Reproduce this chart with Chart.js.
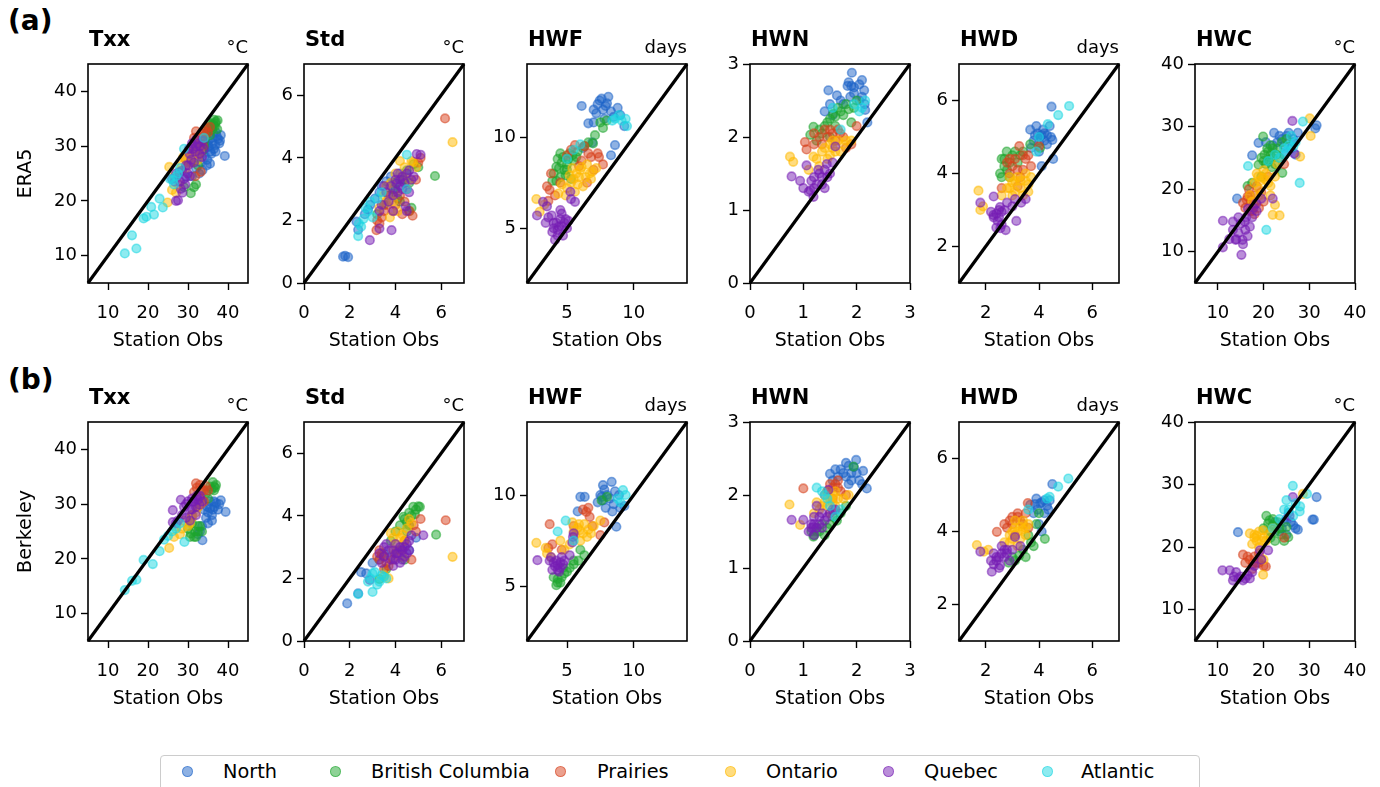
<!DOCTYPE html>
<html>
<head>
<meta charset="utf-8">
<script src="https://cdn.jsdelivr.net/npm/chart.js@4.4.1/dist/chart.umd.min.js"></script>
<style>
  html, body { margin:0; padding:0; background:#fff; }
  body { width:1380px; height:787px; overflow:hidden; position:relative; font-family:"DejaVu Sans", sans-serif; color:#000; }
  .abs { position:absolute; white-space:nowrap; line-height:1; }
  .panelTag { font-weight:bold; font-size:28px; }
  .ttl { font-weight:bold; font-size:21px; }
  .unit { font-size:18px; text-align:right; }
  .cv { position:absolute; }
  #legend { position:absolute; left:160px; top:755px; width:1040px; height:44px; border:1px solid #ccc; border-radius:4px; box-sizing:border-box; }
  .lgm { position:absolute; width:9px; height:9px; border-radius:50%; }
  .lgt { position:absolute; font-size:19.3px; line-height:1; white-space:nowrap; }
</style>
</head>
<body>
<script>
// ---------------- categories / styling tables ----------------
const REGIONS = ['North', 'British Columbia', 'Prairies', 'Ontario', 'Quebec', 'Atlantic'];
const REGION_RGB = ['30,100,200', '30,165,45', '215,65,30', '255,185,0', '118,30,180', '30,215,225'];

const METRICS = ['Txx', 'Std', 'HWF', 'HWN', 'HWD', 'HWC'];
const UNITS = ['°C', '°C', 'days', '', 'days', '°C'];
const ROW_TAGS = ['(a)', '(b)'];
const ROW_YLABELS = ['ERA5', 'Berkeley'];
const X_LABEL = 'Station Obs';

// axis limits
const TXX_LIM = [5, 45];
const STD_LIM = [0, 7];
const HWF_LIM = [2, 14];
const HWN_LIM = [0, 3];
const HWD_LIM = [1, 7];
const HWC_LIM = [5, 40];
// tick labels
const TXX_TICKS = [10, 20, 30, 40];
const STD_TICKS = [0, 2, 4, 6];
const HWF_TICKS = [5, 10];
const HWN_TICKS = [0, 1, 2, 3];
const HWD_TICKS = [2, 4, 6];
const HWC_TICKS = [10, 20, 30, 40];

// ---------------- (a) ERA5 vs station obs ----------------
const a_txx_north = [[39.2,28.2],[38.2,32],[37.5,31.3],[36.1,30.5],[36.5,29.5],[35.6,29.0],[34.8,27.5],[33.6,25.6],[32.6,28.0],[32,26],[29.5,24.4],[35,31],[37,32.5],[36.8,30.2],[34.5,30.5],[33.8,29.3],[35.5,26.8],[31,24.5],[38,31],[36,31.5],[35.2,30],[37.2,31.8],[36.4,32.3],[34.2,28.2],[35.8,28.6],[33.2,27],[37.8,30.5],[36.9,29],[34.7,26.5],[32.8,25],[35,29.8]];
const a_txx_bc = [[36.5,34.8],[35.9,33.9],[36.8,34.2],[35.1,33.2],[37.3,33.1],[36.2,33.5],[37,34.5],[34.1,31],[35.5,32],[30.7,21.4],[32,23],[29,22.5],[34,30],[35.5,34.2],[36.3,34],[37.4,34.7],[36,33],[35,32.8],[34.5,32.2],[36.7,33.6],[33.5,29],[32.5,26.5],[31.5,22.5]];
const a_txx_prairies = [[32,32.7],[34.5,33.3],[33.5,32.3],[33.2,30.4],[29.4,27.7],[33.2,25.3],[31.5,31.5],[34,31.8],[32.5,29.5],[30.5,28.8],[35,32.5],[31.8,24.5],[33,31.5],[34.2,32.7],[32.2,31],[33.8,30],[31.7,29.5],[30.8,27],[32.8,28.5],[35.5,33.5]];
const a_txx_ontario = [[25.3,26.2],[24.9,19.7],[27,21.5],[31.1,28.3],[29.4,27.7],[30.5,29],[31.8,30.5],[28.5,26.5],[33,29],[30,27],[26.5,24.5],[32.5,27.5],[28,25.5],[29.5,26],[31.5,29],[30.8,27.8],[27.8,23],[26,22],[32,29.8],[28.8,28]];
const a_txx_quebec = [[32,29.9],[30.4,28.6],[27,25],[26.7,23.5],[27.5,20.1],[27,20],[28.2,22.2],[29.9,25],[32.9,28.6],[33.7,31],[31,30.5],[29,24],[28.5,25.5],[31.5,27],[33,30],[30,26.5],[26,24],[32,31.2],[34,29.5],[31.2,29.5],[32.5,30.5],[30.8,27.5],[29.5,26.5],[28,23.5],[31.8,29],[30.2,29.5],[27.8,25.2],[29.3,23],[33.5,28],[28.6,21.5],[30.5,24.5]];
const a_txx_atlantic = [[14.2,10.4],[17.1,11.3],[16,13.7],[19.6,17.1],[20.8,18.9],[22.9,20.4],[23.7,18.8],[18.9,16.8],[26.2,23.8],[27.5,25],[21.5,17.5],[25.5,24],[34,31.5],[29,29.5],[27,24.5],[26.5,23],[28,26]];

const a_std_north = [[1.71,0.84],[1.93,0.83],[1.8,0.87],[2.3,1.96],[2.37,1.7],[2.66,2.2],[3.6,3.25],[2.9,2.5],[3.3,2.9],[4.0,3.0],[4.4,3.3],[3.8,3.4],[3.1,2.7],[2.8,2.35],[3.4,3.1],[4.2,3.5]];
const a_std_bc = [[5.73,3.42],[4.59,2.3],[3.2,2.2],[4.2,2.6],[4.5,3.6],[3.7,2.8],[4.8,3.8],[4.0,3.2],[4.7,2.4],[3.5,2.5],[4.3,3.3],[3.9,3.0],[4.6,3.2],[4.1,2.7],[5.0,3.7]];
const a_std_prairies = [[6.17,5.26],[3.17,1.69],[4.62,2.3],[5.0,3.85],[3.4,2.1],[3.6,2.5],[4.0,2.5],[4.3,2.2],[3.8,2.8],[4.5,3.0],[5.1,4.0],[3.3,1.9],[4.75,2.15],[3.9,2.3],[4.2,2.8],[3.5,2.3],[4.4,2.6],[3.2,2.0],[4.9,3.3]];
const a_std_ontario = [[6.5,4.5],[4.77,3.86],[3.76,2.1],[4.0,3.5],[4.4,3.7],[3.6,3.1],[4.6,3.3],[3.9,2.6],[3.3,2.4],[4.2,3.9],[4.9,3.7],[3.8,3.2],[4.3,3.4],[3.5,2.8],[4.7,3.9],[4.1,2.3],[3.6,2.6]];
const a_std_quebec = [[2.88,1.37],[3.83,1.69],[3.3,1.74],[4.93,4.12],[5.1,4.1],[4.05,3.18],[3.6,2.9],[4.5,3.5],[3.9,2.3],[4.2,3.3],[4.3,3.0],[3.7,2.6],[4.6,2.9],[4.1,3.5],[4.45,2.45],[3.5,3.1],[4.8,3.4],[4.0,3.3],[4.3,3.4],[3.8,3.1],[4.1,2.9],[4.4,3.2],[3.9,2.8],[4.7,3.3],[3.4,2.5],[4.2,3.1],[4.6,3.6],[3.3,2.3],[4.5,2.3]];
const a_std_atlantic = [[2.37,1.5],[2.6,2.05],[4.5,4.1],[2.9,2.6],[2.8,2.3],[3.0,2.1],[3.2,2.7],[4.5,3.0],[2.5,1.8],[2.7,2.4],[3.4,2.9],[2.4,1.9]];

const a_hwf_north = [[7.45,12.0],[6.1,11.7],[8.0,11.85],[7.7,11.5],[6.6,10.75],[8.3,11.4],[9.3,10.6],[8.6,9.56],[8.3,9.0],[7.2,11.3],[8.8,11.6],[9.0,11.2],[7.0,10.8],[7.6,12.1],[6.9,9.7],[6.2,9.4],[7.9,11.7],[7.3,11.8],[8.5,11.1],[7.0,11.5],[7.8,11.0],[8.1,12.2]];
const a_hwf_bc = [[7.97,10.9],[6.95,9.65],[4.2,8.37],[4.7,8.9],[5.2,9.1],[4.0,8.0],[5.0,8.5],[4.5,7.8],[5.5,8.7],[6.3,9.5],[4.8,8.2],[3.9,7.6],[5.8,9.2],[4.3,8.8],[7.5,10.8],[5.3,7.7],[4.4,8.3],[4.6,8.6],[5.1,8.8],[4.9,7.9],[5.4,9.0],[4.2,7.6],[5.7,8.9],[6.6,9.7],[4.5,9.1],[5.0,8.2],[7.1,10.1],[7.7,10.5]];
const a_hwf_prairies = [[5.6,9.56],[6.3,9.5],[7.3,9.1],[7.7,8.5],[3.7,7.1],[3.6,6.5],[3.8,8.0],[6.8,8.9],[5.0,9.0],[4.1,6.8],[7.0,8.2],[5.9,8.4],[6.5,7.5],[5.3,9.3],[6.1,8.7],[4.5,7.5],[6.6,9.1],[7.4,8.9],[3.5,7.3]];
const a_hwf_ontario = [[5.7,8.0],[5.3,7.5],[6.1,8.35],[6.7,8.0],[2.7,6.6],[2.95,5.9],[4.35,6.9],[5.0,7.2],[6.2,7.3],[5.6,7.0],[6.8,7.7],[4.6,7.4],[7.2,8.3],[5.9,7.8],[5.5,7.7],[6.0,8.2],[6.4,7.8],[5.2,7.9],[6.5,8.5],[5.8,7.4],[4.9,6.8],[3.3,6.3],[6.9,8.1],[5.4,8.3]];
const a_hwf_quebec = [[3.2,6.45],[2.75,5.7],[3.4,5.3],[3.85,5.7],[4.3,4.9],[4.4,5.1],[4.9,5.5],[4.1,4.36],[5.0,5.0],[5.25,7.0],[5.6,6.45],[4.6,5.8],[4.0,5.3],[4.7,4.6],[3.9,4.8],[5.1,5.4],[4.2,5.3],[4.5,5.5],[4.0,5.0],[4.6,5.1],[4.8,5.3],[4.3,4.6],[3.6,5.6],[3.5,6.2],[5.3,6.6],[4.5,6.0]];
const a_hwf_atlantic = [[8.9,11.2],[9.1,10.9],[9.4,11.0],[8.4,10.9],[5.5,9.3],[6.0,9.6],[5.0,8.8],[8.6,11.0],[9.5,10.6]];

const a_hwn_north = [[1.91,2.88],[2.1,2.78],[1.83,2.7],[1.47,2.64],[1.63,2.57],[2.14,2.64],[2.16,2.37],[1.95,2.6],[2.05,2.5],[1.9,2.7],[1.75,2.45],[2.2,2.2],[1.4,2.35],[1.55,2.3],[1.85,2.75],[1.95,2.68],[2.05,2.72],[1.88,2.55],[2.1,2.55],[1.7,2.5],[1.5,2.45],[2.15,2.45]];
const a_hwn_bc = [[1.56,2.32],[1.19,2.14],[1.13,2.03],[1.7,2.35],[1.9,2.2],[1.45,2.2],[1.3,2.1],[1.6,2.15],[1.8,2.45],[1.25,1.95],[2.0,2.5],[1.5,2.0],[1.6,2.28],[1.75,2.3],[1.65,2.4],[1.4,2.15],[1.5,2.25],[1.85,2.38],[1.35,2.05],[1.95,2.4]];
const a_hwn_prairies = [[1.03,1.93],[1.06,1.83],[1.5,2.1],[1.69,2.05],[1.9,1.9],[2.0,2.15],[1.3,2.0],[1.4,2.1],[1.6,1.95],[1.8,1.85],[1.2,1.9],[1.55,2.05],[1.45,2.0],[1.65,2.1],[1.75,2.0],[1.35,1.9],[1.2,2.05]];
const a_hwn_ontario = [[0.75,1.73],[0.81,1.66],[1.19,1.73],[1.5,1.9],[1.65,1.95],[1.35,1.8],[1.45,1.7],[1.7,1.8],[1.9,1.95],[1.3,1.6],[1.1,1.55],[1.55,1.85],[1.4,1.85],[1.6,1.8],[1.75,1.9],[1.5,1.75],[1.8,1.95],[1.25,1.7],[1.55,1.95]];
const a_hwn_quebec = [[0.78,1.46],[0.94,1.4],[1.06,1.61],[1.13,1.27],[1.19,1.18],[1.28,1.55],[1.44,1.63],[1.25,1.35],[1.6,1.87],[1.15,1.4],[1.35,1.45],[1.5,1.5],[1.0,1.3],[1.4,1.3],[1.2,1.45],[1.3,1.5],[1.4,1.55],[1.1,1.25],[1.35,1.35],[1.45,1.45],[1.2,1.3],[1.55,1.65]];
const a_hwn_atlantic = [[2.16,2.5],[2.05,2.35],[1.55,2.4],[1.7,2.1],[2.1,2.4],[1.95,2.45]];

const a_hwd_north = [[4.47,5.83],[4.04,5.0],[3.67,5.2],[4.5,4.92],[4.1,4.2],[4.53,4.4],[3.8,4.9],[4.2,5.1],[4.3,4.8],[3.9,5.3],[4.0,4.6],[3.7,4.7],[4.4,5.3],[4.1,5.05],[4.2,4.9],[3.95,5.1],[4.3,5.05],[4.0,4.85],[4.15,5.2],[3.85,5.05],[4.45,5.0]];
const a_hwd_bc = [[2.79,4.6],[2.54,4.0],[2.6,4.4],[3.67,4.8],[4.04,4.7],[3.0,4.5],[3.2,4.3],[2.7,4.2],[3.4,4.6],[2.9,3.9],[2.7,4.4],[2.8,4.1],[3.1,4.6],[2.6,3.9],[3.3,4.5],[2.9,4.3]];
const a_hwd_prairies = [[3.26,4.75],[2.8,4.3],[3.4,4.1],[4.0,4.75],[2.6,3.6],[3.2,3.65],[3.0,4.2],[3.5,4.4],[2.9,4.0],[3.7,4.2],[3.3,3.9],[3.1,4.4],[3.4,4.5],[2.9,4.4],[3.6,4.5],[3.2,4.1]];
const a_hwd_ontario = [[1.73,3.53],[1.8,3.0],[3.0,3.75],[3.5,4.0],[2.8,3.6],[3.3,3.8],[2.6,3.4],[3.6,3.7],[3.1,3.5],[2.9,3.9],[3.4,3.4],[1.9,3.1],[3.1,3.8],[3.3,3.6],[3.5,3.8],[2.9,3.6],[3.7,3.9],[3.2,3.9],[3.0,3.4],[3.6,3.5]];
const a_hwd_quebec = [[1.8,3.2],[2.3,3.37],[2.29,2.86],[2.54,3.08],[2.4,2.52],[2.75,2.45],[3.15,2.7],[3.33,3.2],[2.5,2.8],[2.7,3.0],[2.2,2.95],[3.0,3.1],[2.6,2.6],[3.5,3.3],[2.4,2.9],[2.5,3.0],[2.3,2.8],[2.6,2.95],[2.45,2.7],[2.8,3.2],[3.1,3.3],[2.55,2.5]];
const a_hwd_atlantic = [[5.13,5.85],[4.72,5.6],[4.33,5.35],[4.0,5.0],[3.9,4.6]];

const a_hwc_north = [[18.9,27.4],[17.5,25.4],[14.2,18.5],[22.3,29],[31.6,30.2],[31.3,29.7],[24,28],[25.5,29],[23,27.5],[26,26.5],[20.5,27.5],[27,25.5],[24.5,25.5],[26.5,28],[25,28.5],[24.5,27],[23.5,28.5],[26.5,27.5],[22,27],[27.5,29]];
const a_hwc_bc = [[19.9,28.4],[20.2,25.5],[24.1,22.6],[18.9,23.9],[21,26],[22,25],[21.5,27],[23,26.5],[20.5,24],[16.5,20.5],[17.5,21],[22.5,24],[25,28],[19.5,22],[24,27.5],[21.5,25.5],[22,26.5],[21,24.5],[22.8,25.5],[20.8,26.5],[23.5,25],[20,24.5],[21.8,23.5],[19.5,25]];
const a_hwc_prairies = [[16.3,18.3],[17,19],[18,17.5],[15.5,17.8],[17.5,16.5],[19,17],[16.8,20],[20,18],[18.5,20.5],[21,22],[24.5,24],[17.2,18.2],[16.5,18.8],[18.2,19],[17.8,17.5],[16,17],[19.5,19.5],[18,16],[17,16.5]];
const a_hwc_ontario = [[19.15,21.3],[30.1,31.3],[30.3,28.5],[28,25.2],[22,15.9],[18.5,22.5],[20.5,21.5],[19,20],[17,19],[21.5,20.5],[22.5,22],[20,23],[18,21],[17.5,18],[23,24],[19.8,21.8],[20.5,22.5],[18.8,22],[21,21],[19.2,19],[21.5,19],[23.5,15.8],[22.5,17.5]];
const a_hwc_quebec = [[11.1,10.7],[11.1,14.95],[15.15,9.5],[13.3,13.5],[15.4,11.9],[13.9,11.9],[16.6,16.9],[18.4,17.7],[22,18.5],[26.7,25.7],[26.3,30.9],[15.9,14.8],[13.3,14.8],[14.5,13],[16.5,12.5],[12.5,12],[17.5,15.5],[19.5,18.5],[15,14.5],[16,13.5],[14.5,15.5],[17,14],[15.5,11.2],[14,12],[18.5,16.5],[16.2,15.5],[17.8,17]];
const a_hwc_atlantic = [[16.6,23.7],[27.9,21.0],[20.6,13.5],[28.6,30.8],[24.5,26.5],[25.5,27],[23.5,25],[26,28.5],[21,24.5],[27,27.5],[25,26],[26.5,26.8],[22.5,25.5]];

// ---------------- (b) Berkeley vs station obs ----------------
const b_txx_north = [[39.4,28.6],[38.2,30.7],[36.6,29.5],[33.6,23.4],[36,28],[35.5,30.5],[37.5,29],[34.5,27.5],[35,28.5],[36.5,30.5],[33.5,26],[32.5,24.5],[34,29],[37,30.2],[35.5,29.2],[36.2,29],[34.8,29.5],[37.8,30],[36,27],[33,25],[35,26.5]];
const b_txx_bc = [[36.5,33.2],[35.9,32.7],[37,33.5],[36.2,34],[34.5,32],[30.7,24.65],[31.5,24],[32.5,25],[30,25.5],[35,31],[33,26],[31,26.5],[36.8,33],[35.5,33.2],[36.5,32.5],[32,24],[31.8,25],[30.5,24],[33.5,25],[32.5,26]];
const b_txx_prairies = [[32,33.8],[34.5,33.3],[33.5,32.5],[35,32.5],[31.5,32.2],[33,31],[32.5,29.5],[34,30.5],[31,28],[33,33.5],[32.2,33],[34,32.5],[33.2,30]];
const b_txx_ontario = [[25.3,22],[27,25.9],[28,24.5],[30,26],[29,27],[32,28.5],[31,27.5],[33,30],[26.5,24],[31,28],[30.5,26.5],[32.5,29.5],[28.5,25.5]];
const b_txx_quebec = [[26.2,28.9],[28.2,30.8],[29.5,27.5],[26.2,26.7],[32.9,29.9],[30,30.5],[31,29],[32,28],[33,31.5],[30.5,27],[29,29.5],[31.5,30.5],[32.5,30.8],[27.5,27],[31.2,30.5],[30.5,29],[32,29.5],[31,31],[29.5,30],[33.5,30.5],[32.2,31.5],[28.5,28],[27,26.5]];
const b_txx_atlantic = [[14.2,14.3],[17.1,16.2],[16,16],[21.2,19.05],[18.9,19.8],[22.9,21.4],[29.1,23.1],[24,23.5],[26,25],[28,26.5],[25,24.2],[27,25.5]];

const b_std_north = [[1.89,1.2],[2.37,1.52],[2.72,2.16],[2.5,2.2],[3.0,2.5],[3.3,2.6],[3.8,2.7],[4.3,3.0],[4.6,2.9],[4.9,3.3],[3.5,2.8],[4.1,2.9]];
const b_std_bc = [[4.78,4.29],[5.07,4.29],[4.35,3.97],[4.0,3.5],[5.78,3.4],[3.3,1.98],[4.6,4.1],[4.9,4.2],[4.2,3.7],[4.5,3.8],[3.8,3.2],[3.6,2.3],[4.4,2.6],[4.7,4.0],[4.85,4.05],[4.4,3.9],[4.6,3.7],[5.0,4.3],[4.5,3.5]];
const b_std_prairies = [[6.2,3.86],[5.1,3.9],[3.3,2.6],[3.4,2.8],[3.6,2.5],[3.2,2.7],[4.0,2.8],[4.4,3.2],[4.7,2.6],[3.5,2.3],[4.9,3.5],[3.5,2.7],[3.3,2.9],[3.7,2.4],[4.2,2.9],[4.8,3.7],[3.9,2.6]];
const b_std_ontario = [[6.5,2.69],[4.7,3.77],[3.8,3.45],[4.2,3.3],[4.5,3.6],[3.9,2.9],[4.3,2.7],[3.5,2.1],[4.0,3.1],[3.7,2.0],[4.3,3.4],[4.6,3.9],[4.1,3.5],[4.4,3.2],[3.9,3.3]];
const b_std_quebec = [[2.88,1.95],[4.05,2.8],[3.6,3.1],[3.5,3.0],[5.22,3.38],[4.7,3.38],[4.3,2.9],[3.8,2.6],[4.0,3.1],[4.5,2.8],[4.2,2.5],[3.4,2.5],[4.6,3.2],[3.9,2.4],[4.4,3.0],[3.3,2.8],[4.1,2.8],[4.2,3.0],[4.4,2.7],[3.9,2.9],[4.5,3.1],[3.7,2.9],[4.3,2.6],[4.0,2.6],[4.6,2.9],[3.5,2.7]];
const b_std_atlantic = [[2.37,1.5],[3.0,1.57],[3.0,2.16],[3.5,2.05],[2.8,1.9],[3.2,1.8],[3.4,2.1],[2.9,2.0],[3.6,2.0],[3.3,1.9],[3.1,2.2]];

const b_hwf_north = [[7.7,10.54],[8.35,10.72],[6.33,9.9],[6.0,9.9],[7.7,9.7],[8.7,8.26],[9.3,9.4],[5.8,9.1],[8.0,10.0],[8.5,9.5],[7.3,9.6],[8.9,10.0],[7.9,9.3],[7.5,10.0],[8.2,9.8],[8.6,10.2],[7.8,10.3],[8.4,9.1],[9.0,9.3],[7.6,9.9]];
const b_hwf_bc = [[4.2,5.06],[4.3,5.4],[4.8,5.7],[5.85,6.4],[5.2,6.0],[6.3,6.7],[4.5,5.2],[5.5,6.2],[4.0,5.5],[6.0,7.0],[7.6,9.7],[4.6,5.5],[5.0,5.8],[4.3,5.2],[5.5,6.4],[4.7,6.0],[8.0,9.9]];
const b_hwf_prairies = [[6.45,9.08],[3.7,8.4],[3.9,7.3],[7.5,7.8],[6.7,8.8],[4.6,7.0],[6.9,8.3],[7.8,8.5],[5.5,8.3],[6.2,9.2],[6.6,9.3],[3.6,7.1]];
const b_hwf_ontario = [[2.7,7.38],[3.5,6.8],[5.95,8.07],[5.6,7.8],[6.3,8.4],[7.0,8.3],[5.4,8.5],[6.0,7.5],[6.5,7.7],[5.2,7.3],[3.8,6.6],[7.5,8.6],[4.8,7.0],[5.8,8.2],[6.2,7.9],[5.5,8.0],[6.6,8.1],[5.9,8.4],[6.8,7.9],[4.5,7.5],[3.4,7.1]];
const b_hwf_quebec = [[2.78,6.43],[3.7,6.4],[4.3,6.16],[5.45,7.7],[4.5,6.0],[4.0,6.3],[4.8,6.4],[3.9,5.9],[5.2,6.7],[4.4,5.8],[5.5,7.9],[4.6,6.6],[4.2,6.4],[4.5,6.3],[4.1,6.1],[4.7,6.2],[4.3,5.9],[5.4,7.4],[3.8,6.6]];
const b_hwf_atlantic = [[9.2,10.27],[8.8,9.8],[4.3,8.0],[4.9,8.6],[9.0,9.6],[5.5,7.5],[9.4,10.0]];

const b_hwn_north = [[1.8,2.44],[1.99,2.48],[1.5,2.29],[1.75,2.3],[2.19,2.09],[2.12,2.33],[1.9,2.3],[2.05,2.2],[1.65,2.25],[1.85,2.15],[1.95,2.38],[2.1,2.15],[1.55,2.2],[1.7,2.35],[1.8,2.25],[2.0,2.3],[1.9,2.2],[1.85,2.4],[1.6,2.35]];
const b_hwn_bc = [[1.94,2.39],[1.19,1.43],[1.3,1.5],[1.63,1.65],[1.5,1.6],[1.25,1.55],[1.4,1.45],[1.7,1.75],[1.8,1.85],[1.15,1.5],[1.2,1.45],[1.25,1.5],[1.35,1.6],[1.55,1.7],[1.45,1.55]];
const b_hwn_prairies = [[1.0,2.09],[1.5,2.15],[1.6,2.15],[1.7,2.05],[1.4,2.0],[1.8,2.0],[1.55,1.95],[1.65,2.2],[1.55,2.1],[1.65,2.1],[1.45,2.05]];
const b_hwn_ontario = [[0.74,1.87],[0.94,1.59],[1.56,1.99],[1.4,1.9],[1.6,1.85],[1.3,1.8],[1.75,1.95],[1.5,1.75],[1.2,1.75],[1.85,2.0],[1.45,2.05],[1.5,1.95],[1.55,1.9],[1.65,1.95],[1.45,1.85],[1.6,2.05],[1.35,1.85],[1.25,1.9]];
const b_hwn_quebec = [[0.78,1.66],[1.0,1.66],[1.19,1.56],[1.25,1.85],[1.47,2.07],[1.6,1.8],[1.3,1.7],[1.15,1.6],[1.4,1.65],[1.2,1.45],[1.1,1.5],[1.35,1.55],[1.5,1.75],[1.2,1.6],[1.25,1.55],[1.15,1.55],[1.3,1.6],[1.45,1.7],[1.35,1.75],[1.55,1.8],[1.2,1.7]];
const b_hwn_atlantic = [[1.25,2.1],[1.35,2.05],[1.45,1.95],[1.6,1.7],[1.7,1.8],[1.4,2.0],[1.5,1.85]];

const b_hwd_north = [[4.5,5.3],[4.04,4.77],[3.67,4.73],[4.1,4.0],[3.9,4.9],[4.3,4.7],[4.2,4.5],[3.8,4.5],[4.0,4.2],[4.4,4.85],[4.1,4.8],[4.2,4.85],[3.95,4.6],[4.35,4.6],[3.85,4.75]];
const b_hwd_bc = [[4.22,3.8],[3.8,3.6],[3.26,3.34],[2.86,3.15],[4.0,4.5],[3.5,3.3],[3.1,3.2],[3.9,4.2],[3.6,3.9],[3.7,3.7],[3.4,3.5],[3.0,3.3]];
const b_hwd_prairies = [[3.58,4.78],[2.42,3.99],[3.0,4.4],[2.8,4.1],[3.2,4.4],[3.4,4.2],[2.9,4.3],[3.1,3.9],[3.6,4.1],[3.2,4.5],[3.3,4.3],[3.0,4.2],[3.5,4.5],[2.7,4.2]];
const b_hwd_ontario = [[1.67,3.63],[1.93,3.45],[2.1,3.5],[3.3,4.13],[3.5,3.9],[3.0,3.8],[3.2,3.6],[2.9,3.9],[3.4,4.3],[3.6,4.2],[2.7,3.7],[3.1,4.1],[3.2,4.0],[3.4,4.05],[3.0,4.0],[3.3,3.8],[3.5,4.1],[2.9,3.7],[3.1,4.3]];
const b_hwd_quebec = [[1.8,3.45],[2.23,2.9],[2.54,3.07],[2.8,3.5],[3.1,3.85],[2.4,3.3],[2.9,3.2],[2.6,3.6],[3.3,3.6],[2.7,3.3],[2.3,3.4],[3.0,3.5],[2.5,3.3],[2.6,3.4],[2.4,3.2],[2.7,3.5],[2.8,3.4],[2.3,3.1],[2.2,3.2],[2.5,3.0]];
const b_hwd_atlantic = [[5.1,5.45],[4.72,5.23],[4.3,4.9],[4.4,4.95],[3.6,4.6]];

const b_hwc_north = [[14.4,22.4],[31.6,28],[30.7,24.4],[31,24.4],[26,24],[27,23],[24.5,24],[25.5,25.5],[23.5,22.5],[27.5,22.8],[22.5,24],[25,22],[25,24.5],[26.5,23.5],[24,23]];
const b_hwc_bc = [[20.6,25],[21.3,24.3],[25.4,21.6],[25,23.2],[22,23.5],[23,24],[21.5,22.5],[24,22],[22.5,21],[20,23],[21,23.8],[22,24.5],[23.5,23],[21.5,21.5],[22.5,22.5],[24.5,21]];
const b_hwc_prairies = [[15.5,18.8],[17.7,17.4],[19,17.5],[20.5,16.9],[16,17.5],[18,18.5],[19.5,18],[24.5,21.5],[20,17],[17,18],[18.5,17.5],[16.5,18.5],[19,19],[17.5,16.5]];
const b_hwc_ontario = [[17,22.2],[19.9,22.7],[18,21.5],[19.9,15.6],[28.6,28.5],[18.5,21],[20.5,21],[19,20],[21,22],[17.5,20.5],[22,23],[20,18],[18,22],[19,22.5],[18.5,21.8],[20,21.5],[19.5,21]];
const b_hwc_quebec = [[11,16.3],[12.6,16.3],[13.3,14.7],[15.5,14.7],[17,15],[26.4,28],[19.2,19.5],[21,19.5],[25.7,25],[14,16],[16.5,15.5],[15,15.3],[18,17],[13.5,15.3],[14.5,15],[16,15],[17.5,16],[19.5,18]];
const b_hwc_atlantic = [[26.4,29.8],[25,27.5],[27.9,25.7],[23.5,24.5],[24.5,26],[28,26.5],[22,23],[26.5,25],[29.5,28.5],[27,27],[25.5,26]];

// ---------------- assembling the panels ----------------
const LIMS = [TXX_LIM, STD_LIM, HWF_LIM, HWN_LIM, HWD_LIM, HWC_LIM];
const TICKS = [TXX_TICKS, STD_TICKS, HWF_TICKS, HWN_TICKS, HWD_TICKS, HWC_TICKS];
const ROW_DATA = [
  [
    [a_txx_north, a_txx_bc, a_txx_prairies, a_txx_ontario, a_txx_quebec, a_txx_atlantic],
    [a_std_north, a_std_bc, a_std_prairies, a_std_ontario, a_std_quebec, a_std_atlantic],
    [a_hwf_north, a_hwf_bc, a_hwf_prairies, a_hwf_ontario, a_hwf_quebec, a_hwf_atlantic],
    [a_hwn_north, a_hwn_bc, a_hwn_prairies, a_hwn_ontario, a_hwn_quebec, a_hwn_atlantic],
    [a_hwd_north, a_hwd_bc, a_hwd_prairies, a_hwd_ontario, a_hwd_quebec, a_hwd_atlantic],
    [a_hwc_north, a_hwc_bc, a_hwc_prairies, a_hwc_ontario, a_hwc_quebec, a_hwc_atlantic]
  ],
  [
    [b_txx_north, b_txx_bc, b_txx_prairies, b_txx_ontario, b_txx_quebec, b_txx_atlantic],
    [b_std_north, b_std_bc, b_std_prairies, b_std_ontario, b_std_quebec, b_std_atlantic],
    [b_hwf_north, b_hwf_bc, b_hwf_prairies, b_hwf_ontario, b_hwf_quebec, b_hwf_atlantic],
    [b_hwn_north, b_hwn_bc, b_hwn_prairies, b_hwn_ontario, b_hwn_quebec, b_hwn_atlantic],
    [b_hwd_north, b_hwd_bc, b_hwd_prairies, b_hwd_ontario, b_hwd_quebec, b_hwd_atlantic],
    [b_hwc_north, b_hwc_bc, b_hwc_prairies, b_hwc_ontario, b_hwc_quebec, b_hwc_atlantic]
  ]
];

// ---------------- layout ----------------
const COL_LEFT = [88, 304, 527, 750, 959, 1195];
const ROW_TOP = [64, 422];
const PW = 160, PH = 219;
const PAD_T = 15, PAD_R = 22, X_AX_H = 75;
const FONT = 'DejaVu Sans';

Chart.defaults.font.family = FONT;
Chart.defaults.color = '#000';

const boxPlugin = {
  id: 'frameBox',
  afterDraw(chart) {
    const { ctx, chartArea: a } = chart;
    ctx.save();
    ctx.strokeStyle = '#000';
    ctx.lineWidth = 1.6;
    ctx.strokeRect(a.left, a.top, a.right - a.left, a.bottom - a.top);
    ctx.restore();
  }
};

function addText(cls, text, left, top, extra) {
  const d = document.createElement('div');
  d.className = 'abs ' + cls;
  d.textContent = text;
  d.style.left = left + 'px';
  d.style.top = top + 'px';
  if (extra) Object.assign(d.style, extra);
  document.body.appendChild(d);
  return d;
}

function makePanel(row, col) {
  const axW = col === 0 ? COL_LEFT[0] : 62;
  const cw = axW + PW + PAD_R;
  const ch = PAD_T + PH + X_AX_H;
  const canvas = document.createElement('canvas');
  canvas.className = 'cv';
  canvas.width = cw; canvas.height = ch;
  canvas.style.width = cw + 'px'; canvas.style.height = ch + 'px';
  canvas.style.left = (COL_LEFT[col] - axW) + 'px';
  canvas.style.top = (ROW_TOP[row] - PAD_T) + 'px';
  document.body.appendChild(canvas);

  const lim = LIMS[col], ticks = TICKS[col];
  const series = ROW_DATA[row][col];
  const datasets = [{
    data: [{ x: lim[0], y: lim[0] }, { x: lim[1], y: lim[1] }],
    showLine: true, borderColor: '#000', borderWidth: 3.2, pointRadius: 0,
    order: 0, clip: false
  }];
  series.forEach((pts, i) => {
    datasets.push({
      label: REGIONS[i],
      data: pts.map(p => ({ x: p[0], y: p[1] })),
      backgroundColor: 'rgba(' + REGION_RGB[i] + ',0.5)',
      borderColor: 'rgba(' + REGION_RGB[i] + ',0.55)',
      borderWidth: 1.6,
      pointRadius: 4.3,
      order: REGIONS.length - i
    });
  });

  const tickFont = { family: FONT, size: 18 };
  const gridCfg = { display: true, drawOnChartArea: false, drawTicks: true, tickLength: 7, tickWidth: 1.4, tickColor: '#000' };
  new Chart(canvas, {
    type: 'scatter',
    data: { datasets },
    options: {
      responsive: false, animation: false, devicePixelRatio: 1,
      layout: { padding: { left: 0, top: PAD_T, right: PAD_R, bottom: 0 } },
      plugins: { legend: { display: false }, tooltip: { enabled: false } },
      scales: {
        x: {
          type: 'linear', min: lim[0], max: lim[1],
          afterBuildTicks: ax => { ax.ticks = ticks.map(v => ({ value: v })); },
          afterFit: s => { s.height = X_AX_H; s.paddingLeft = 0; s.paddingRight = 0; },
          grid: gridCfg, border: { display: false },
          ticks: { font: tickFont, color: '#000', padding: 13, autoSkip: false, maxRotation: 0 },
          title: { display: true, text: X_LABEL, color: '#000', font: { family: FONT, size: 19 }, padding: { top: 0, bottom: 6 } }
        },
        y: {
          type: 'linear', min: lim[0], max: lim[1],
          afterBuildTicks: ax => { ax.ticks = ticks.map(v => ({ value: v })); },
          afterFit: s => { s.width = axW; s.paddingTop = 0; s.paddingBottom = 0; },
          grid: gridCfg, border: { display: false },
          ticks: { font: tickFont, color: '#000', padding: 4, autoSkip: false },
          title: { display: col === 0, text: ROW_YLABELS[row], color: '#000', font: { family: FONT, size: 19 }, padding: { top: 15, bottom: 0 } }
        }
      }
    },
    plugins: [boxPlugin]
  });

  // panel title and unit
  const top = ROW_TOP[row];
  addText('ttl', METRICS[col], COL_LEFT[col] + 1, top - 17 - 17.8);
  if (UNITS[col]) {
    addText('unit', UNITS[col], COL_LEFT[col] + PW - 200, top - 11 - 15.3, { width: '200px' });
  }
}

for (let r = 0; r < 2; r++) {
  addText('panelTag', ROW_TAGS[r], 8, (r === 0 ? 31 : 390) - 24);
  for (let c = 0; c < 6; c++) makePanel(r, c);
}

// legend
const legend = document.createElement('div');
legend.id = 'legend';
document.body.appendChild(legend);
const LEG_MARK_X = [187, 335, 560, 730, 888, 1047];
const LEG_TEXT_X = [222, 370, 596, 765, 923, 1080];
REGIONS.forEach((name, i) => {
  const m = document.createElement('div');
  m.className = 'lgm';
  m.style.left = (LEG_MARK_X[i] - 160 - 6) + 'px';
  m.style.top = (771 - 755 - 6) + 'px';
  m.style.background = 'rgba(' + REGION_RGB[i] + ',0.5)';
  m.style.border = '1.5px solid rgba(' + REGION_RGB[i] + ',0.55)';
  legend.appendChild(m);
  const t = document.createElement('div');
  t.className = 'lgt';
  t.textContent = name;
  t.style.left = (LEG_TEXT_X[i] - 160) + 'px';
  t.style.top = (771 - 755 - 10.5) + 'px';
  legend.appendChild(t);
});
</script>
</body>
</html>
